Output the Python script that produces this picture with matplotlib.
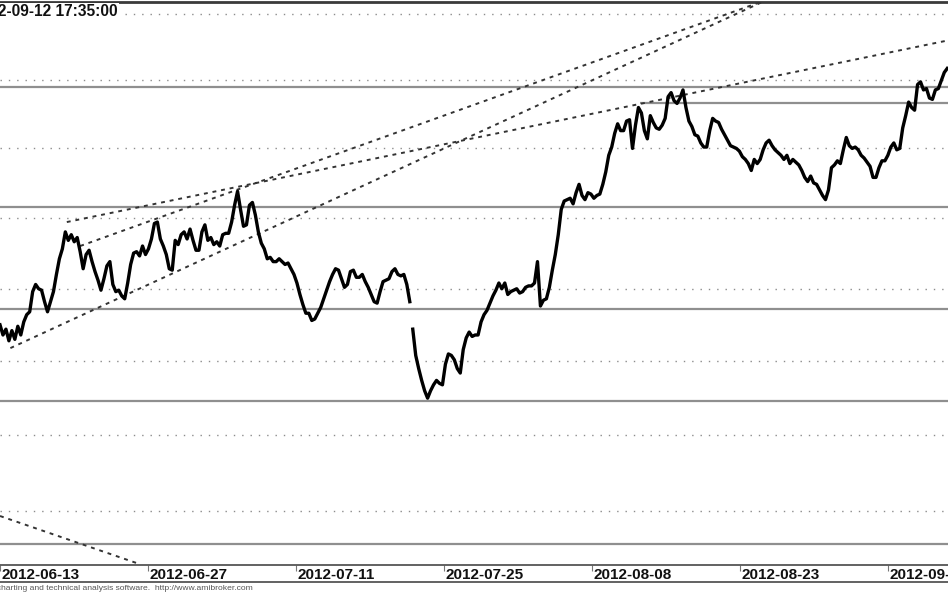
import numpy as np
import matplotlib
matplotlib.use("Agg")
import matplotlib.pyplot as plt
from matplotlib.ticker import NullLocator

plt.rcParams['font.family'] = ['Liberation Sans', 'DejaVu Sans']

# trading-day index: 0 = 2012-06-13 (WSE calendar, Aug 15 closed)
date_labels = ["2012-06-13", "2012-06-27", "2012-07-11", "2012-07-25",
               "2012-08-08", "2012-08-23", "2012-09-06"]
date_days = [0, 10, 20, 30, 40, 50, 60]

# intraday closes, 5 samples per trading day, last one 2012-09-12 17:35
samples_per_day = 5
first_day = 0.2
gap_at = 139  # opening gap on 2012-07-23

price = [
    2225, 2218, 2222, 2214, 2221, 2215, 2224, 2218, 2227, 2232,
    2234, 2248, 2253, 2250, 2249, 2241, 2234, 2241, 2248, 2260,
    2271, 2278, 2290, 2284, 2288, 2283, 2286, 2276, 2264, 2274,
    2277, 2269, 2262, 2256, 2249, 2257, 2266, 2269, 2253, 2248,
    2249, 2245, 2243, 2254, 2267, 2275, 2276, 2273, 2280, 2274,
    2278, 2285, 2296, 2297, 2285, 2280, 2274, 2264, 2263, 2284,
    2281, 2288, 2290, 2285, 2292, 2284, 2277, 2277, 2290, 2295,
    2284, 2286, 2281, 2283, 2280, 2288, 2289, 2289, 2297, 2309,
    2319, 2306, 2294, 2295, 2309, 2311, 2302, 2290, 2282, 2278,
    2271, 2272, 2269, 2269, 2271, 2269, 2267, 2268, 2264, 2260,
    2254, 2246, 2239, 2233, 2233, 2228, 2229, 2233, 2237, 2243,
    2249, 2255, 2260, 2264, 2263, 2257, 2251, 2253, 2262, 2263,
    2258, 2258, 2260, 2255, 2251, 2246, 2241, 2240, 2248, 2255,
    2256, 2257, 2262, 2264, 2260, 2259, 2260, 2253, 2241,
    2222,
    2204, 2195, 2187, 2180, 2175, 2180, 2184, 2187, 2185, 2184,
    2198, 2205, 2204, 2201, 2195, 2192, 2208, 2216, 2220, 2217,
    2218, 2218, 2227, 2232, 2235, 2240, 2245, 2249, 2254, 2250,
    2254, 2246, 2248, 2249, 2250, 2247, 2248, 2251, 2252, 2252,
    2254, 2269, 2238, 2242, 2243, 2251, 2263, 2274, 2288, 2306,
    2312, 2313, 2314, 2310, 2318, 2324, 2316, 2313, 2318, 2317,
    2314, 2316, 2317, 2324, 2333, 2345, 2351, 2361, 2368, 2363,
    2363, 2370, 2371, 2350, 2367, 2380, 2376, 2363, 2357, 2374,
    2369, 2365, 2364, 2367, 2372, 2388, 2391, 2385, 2383, 2387,
    2393, 2380, 2370, 2366, 2360, 2359, 2354, 2351, 2351, 2363,
    2372, 2370, 2369, 2364, 2360, 2356, 2352, 2351, 2350, 2348,
    2344, 2342, 2339, 2334, 2342, 2339, 2342, 2349, 2354, 2356,
    2352, 2349, 2347, 2345, 2342, 2345, 2339, 2342, 2340, 2338,
    2334, 2329, 2326, 2330, 2325, 2324, 2320, 2316, 2313, 2320,
    2336, 2338, 2341, 2339, 2349, 2358, 2352, 2350, 2351, 2349,
    2345, 2343, 2340, 2337, 2329, 2329, 2336, 2341, 2341, 2345,
    2351, 2354, 2349, 2350, 2365, 2374, 2384, 2380, 2378, 2397,
    2399, 2393, 2394, 2387, 2386, 2393, 2394, 2400, 2406, 2409,
]

grid_levels = [2100, 2150, 2200, 2250, 2300, 2350, 2400, 2450]

# horizontal support / resistance lines and the day they start
levels = [2395, 2383, 2308, 2236, 2173, 2079]
level_start = [0.2, 43.3, 0.2, 0.2, 0.2, 0.2]

# drawn trend lines: (day, price) -> (day, price)
trend_lines = [
    ((0.9, 2209), (51.9, 2461)),
    ((4.7, 2297), (64.05, 2430)),
    ((5.6, 2280), (51.9, 2461)),
    ((0.2, 2097), (9.6, 2066)),
]

W, H = 948, 593
fig = plt.figure(figsize=(W / 100, H / 100), dpi=100)
fig.patch.set_facecolor('white')

x_lo, x_hi = 0.2, 64.05
ax = fig.add_axes([0, (H - 565) / H, 1, 563 / H])
ax.set_yscale('log')
ax.set_ylim(2065.4, 2459.1)
ax.set_xlim(x_lo, x_hi)
for a in (ax.xaxis, ax.yaxis):
    a.set_major_locator(NullLocator())
    a.set_minor_locator(NullLocator())
for s in ('left', 'right', 'bottom'):
    ax.spines[s].set_visible(False)
ax.spines['top'].set_color('#3a3a3a')
ax.spines['top'].set_linewidth(2)

for g in grid_levels:
    ax.axhline(g, color='#8c8c8c', lw=1, ls=(0, (1, 5)), zorder=1)

for lvl, st in zip(levels, level_start):
    ax.hlines(lvl, st, x_hi, color='#8f8f8f', lw=1.6, zorder=2)

for (d0, p0), (d1, p1) in trend_lines:
    ax.plot([d0, d1], [p0, p1], color='#333333', lw=1.4, ls=(0, (2, 2.5)), zorder=3)

days = first_day + np.arange(len(price)) / samples_per_day
p = np.array(price, dtype=float)
ax.plot(days[:gap_at], p[:gap_at], color='black', lw=2.4, zorder=4)
ax.plot(days[gap_at:], p[gap_at:], color='black', lw=2.4, zorder=4)

# date strip
axd = fig.add_axes([0, (H - 582) / H, 1, 17 / H])
axd.set_xlim(x_lo, x_hi)
axd.set_ylim(0, 1)
axd.yaxis.set_major_locator(NullLocator())
for s in ('left', 'right'):
    axd.spines[s].set_visible(False)
for s in ('top', 'bottom'):
    axd.spines[s].set_color('#555555')
    axd.spines[s].set_linewidth(1.3)
axd.set_xticks(date_days)
axd.set_xticklabels([''] * len(date_days))
axd.tick_params(axis='x', direction='in', top=True, bottom=False,
                length=4, width=0.8, color='#777777')
for d, lab in zip(date_days, date_labels):
    axd.annotate(lab, xy=(d, 0.42), xycoords=('data', 'axes fraction'),
                 xytext=(1, 0), textcoords='offset points',
                 ha='left', va='center', fontsize=11, fontweight='bold',
                 color='#111111', annotation_clip=False)

fig.text(118 / W, 1 - 11.5 / H, "2012-09-12 17:35:00", ha='right', va='center',
         fontsize=11.2, fontweight='bold', color='#111111',
         bbox=dict(facecolor='white', edgecolor='none', pad=0.5))
fig.text(253 / W, 1 - 588 / H,
         "AmiBroker - charting and technical analysis software.  http://www.amibroker.com",
         ha='right', va='center', fontsize=6.1, color='#555555')

fig.savefig('out.png', dpi=100)
